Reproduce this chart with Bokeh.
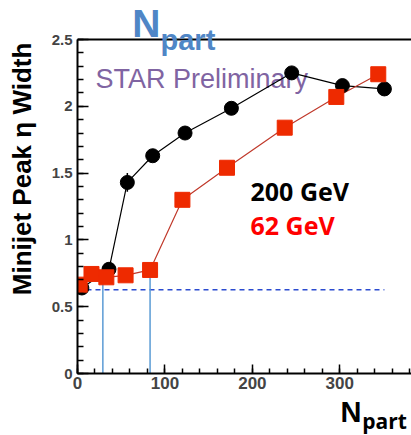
import math
from bokeh.plotting import figure
from bokeh.layouts import column
from bokeh.models import Range1d, FixedTicker, LinearAxis, Label, Span, CustomJSTickFormatter
from bokeh.embed import file_html
from bokeh.resources import INLINE

# 200 GeV (black circles)
npart_200 = [5, 36, 57, 86, 123, 176, 245, 303, 351]
width_200 = [0.64, 0.78, 1.43, 1.63, 1.80, 1.985, 2.25, 2.155, 2.13]
err_200 = [0.0, 0.0, 0.07, 0.0, 0.0, 0.0, 0.0, 0.0, 0.0]

# 62 GeV (red squares)
npart_62 = [2.5, 16, 33, 55, 83, 120, 171, 237, 296, 344]
width_62 = [0.665, 0.745, 0.72, 0.735, 0.775, 1.30, 1.54, 1.84, 2.07, 2.24]

# reference level (dashed) and onset markers (vertical lines)
ref_level = 0.627
ref_x = [0, 351]
onset_x = [29, 83]
onset_top = [0.70, 0.76]

x_major = [0, 100, 200, 300]
x_minor = list(range(0, 381, 20))
y_major = [0, 0.5, 1, 1.5, 2, 2.5]
y_minor = [i / 10 for i in range(0, 26)]

# ---- layout geometry (pixels) ----
W = 411
MAIN_H = 397          # main figure height
BOT_H = 435 - MAIN_H  # strip below holding the x title
LEFT = 77             # frame left
AX_TOP = 39           # canvas y of value 2.5
AX_BOT = 373          # canvas y of value 0
x_max = 382.0
y_top = y_major[-1]
y_end = y_top * AX_BOT / (AX_BOT - AX_TOP)   # frame reaches the canvas top

p = figure(width=W, height=MAIN_H, output_backend="svg", toolbar_location=None,
           x_range=Range1d(0, x_max), y_range=Range1d(0, y_end),
           x_axis_type=None, y_axis_type=None,
           min_border_left=LEFT, min_border_right=0, min_border_top=0,
           min_border_bottom=MAIN_H - AX_BOT)
p.outline_line_color = None
p.background_fill_color = "white"
p.border_fill_color = "white"

fmt = CustomJSTickFormatter(code="return String(Math.round(tick*10)/10);")

xax = LinearAxis(ticker=FixedTicker(ticks=x_major, minor_ticks=x_minor), formatter=fmt)
xax.major_tick_in = 9
xax.major_tick_out = 0
xax.minor_tick_in = 5
xax.minor_tick_out = 0
xax.axis_line_width = 2
xax.major_tick_line_width = 1.5
xax.minor_tick_line_width = 1.5
xax.major_label_text_font = "Liberation Sans"
xax.major_label_text_font_style = "bold"
xax.major_label_text_font_size = "17px"
xax.major_label_standoff = 3
p.add_layout(xax, "below")

yax = LinearAxis(ticker=FixedTicker(ticks=y_major, minor_ticks=y_minor), formatter=fmt,
                 bounds=(0, y_top))
yax.major_tick_in = 11
yax.major_tick_out = 0
yax.minor_tick_in = 6
yax.minor_tick_out = 0
yax.axis_line_width = 2
yax.major_tick_line_width = 1.5
yax.minor_tick_line_width = 1.5
yax.major_label_text_font = "Liberation Sans"
yax.major_label_text_font_style = "bold"
yax.major_label_text_font_size = "15px"
yax.major_label_standoff = 5
yax.axis_label = "\u00a0" * 5 + "Minijet Peak \u03b7 Width"
yax.axis_label_text_font = "Liberation Sans"
yax.axis_label_text_font_style = "bold"
yax.axis_label_text_font_size = "26px"
yax.axis_label_text_color = "black"
yax.axis_label_standoff = 12
p.add_layout(yax, "left")

# top frame line at 2.5
p.add_layout(Span(location=y_top, dimension="width", line_color="black", line_width=2))

# reference dashed line and vertical onset lines
p.line(ref_x, [ref_level, ref_level], line_color="#2B4BD0", line_width=1.5, line_dash="5 4")
p.segment(x0=onset_x, y0=[0, 0], x1=onset_x, y1=onset_top, line_color="#5B9BD5", line_width=1.5)

# data
p.line(npart_200, width_200, line_color="black", line_width=1.2)
p.line(npart_62, width_62, line_color="#C0392B", line_width=1.2)
p.segment(x0=npart_200, y0=[v - e for v, e in zip(width_200, err_200)],
          x1=npart_200, y1=[v + e for v, e in zip(width_200, err_200)],
          line_color="black", line_width=1.5)
p.scatter(npart_200, width_200, marker="circle", size=14, fill_color="black", line_color="black")
p.scatter(npart_62, width_62, marker="square", size=15, fill_color="#EE2A00", line_color="#EE2A00")


def lab(fig, text, cx, cy, size_px, color, font="Liberation Sans", style="bold",
        level="annotation"):
    # cy is the wanted baseline; the renderer puts it lower by about 0.3em + 2px
    fig.add_layout(Label(x=cx, y=cy - (0.3 * size_px + 2), x_units="canvas", y_units="canvas",
                         text=text, text_font=font, text_font_style=style,
                         text_font_size=f"{size_px}px", text_color=color, text_align="left",
                         text_baseline="alphabetic", level=level))


lab(p, "N", 131.7, 36.7, 39, "#4F86C6")
lab(p, "part", 160, 50, 29, "#4F86C6")
lab(p, "STAR Preliminary", 95, 88.3, 27, "#8064A2", style="normal", level="underlay")
lab(p, "200 GeV", 250, 200, 25, "black", font="Open Sans")
lab(p, "62 GeV", 250, 234, 25, "#FF0000", font="Open Sans")

# strip below for the x-axis title
pb = figure(width=W, height=BOT_H, output_backend="svg", toolbar_location=None,
            x_range=Range1d(0, W), y_range=Range1d(0, BOT_H),
            x_axis_type=None, y_axis_type=None,
            min_border=0, min_border_left=0, min_border_right=0,
            min_border_top=0, min_border_bottom=0)
pb.title.visible = False
pb.outline_line_color = None
pb.grid.visible = False
pb.background_fill_color = "white"
pb.border_fill_color = "white"
lab(pb, "N", 340, 421.7 - MAIN_H, 29, "black")
lab(pb, "part", 361.7, 428.3 - MAIN_H, 21, "black", font="Open Sans")

layout = column(p, pb, spacing=0)
open("out.html", "w").write(file_html(layout, INLINE))
